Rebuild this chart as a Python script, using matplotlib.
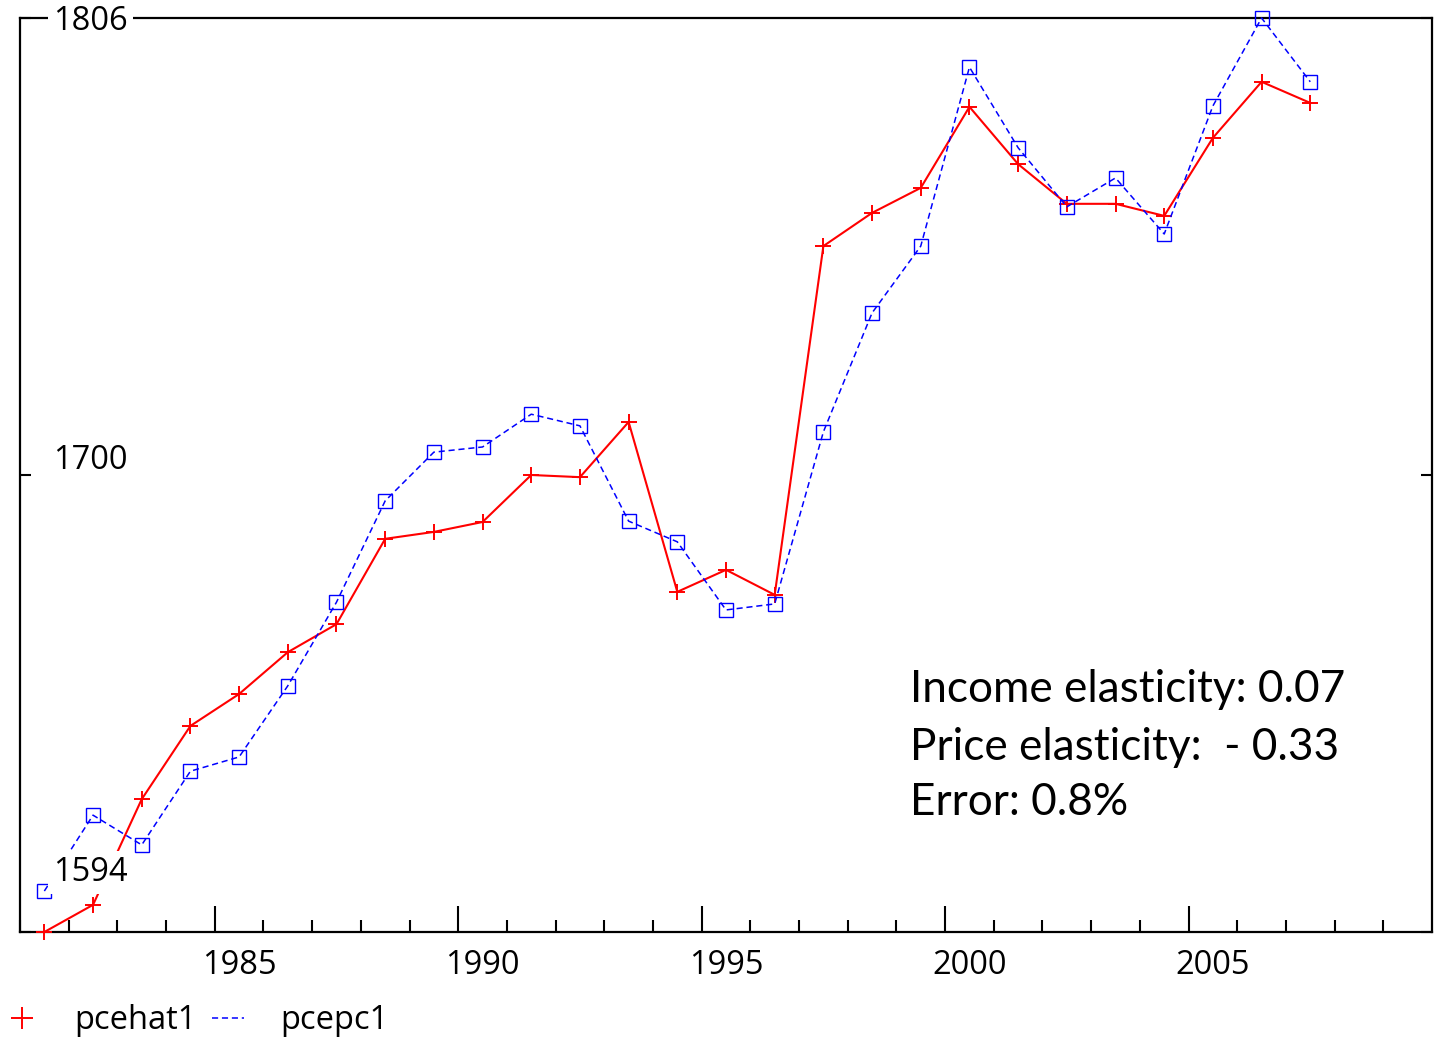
import matplotlib
matplotlib.use("Agg")
import matplotlib.pyplot as plt
from matplotlib.lines import Line2D
from matplotlib.transforms import ScaledTranslation, blended_transform_factory

years = list(range(1981, 2008))
pcehat1 = [1594.0, 1600.3, 1624.8, 1641.8, 1649.2, 1658.9, 1665.4, 1685.2, 1686.8,
           1689.1, 1700.0, 1699.5, 1712.3, 1672.9, 1678.0, 1672.2, 1753.1, 1760.8,
           1766.6, 1785.4, 1772.1, 1762.9, 1762.9, 1760.1, 1778.2, 1791.2, 1786.3]
pcepc1 = [1603.5, 1621.1, 1614.2, 1631.3, 1634.6, 1651.1, 1670.5, 1694.0, 1705.3,
          1706.5, 1714.1, 1711.4, 1689.3, 1684.5, 1668.7, 1670.1, 1710.0, 1737.6,
          1753.1, 1794.6, 1775.9, 1762.2, 1768.9, 1755.9, 1785.6, 1806.0, 1791.2]
ytick_values = [1594, 1700, 1806]
xtick_labels = [1985, 1990, 1995, 2000, 2005]
series_names = ["pcehat1", "pcepc1"]
annotation_lines = ["Income elasticity: 0.07", "Price elasticity:  - 0.33", "Error: 0.8%"]

W, H = 1435, 1037
fig = plt.figure(figsize=(W / 100, H / 100), dpi=100)
ax = fig.add_axes([20 / W, 1 - 932 / H, (1432 - 20) / W, (932 - 18) / H])

tick_font = "Open Sans"
tick_size = 23.5

ax.plot(years, pcehat1, color="#ff0000", lw=1.5, marker="+", ms=12, mew=1.4,
        clip_on=False, zorder=3)
ax.plot(years, pcepc1, color="#0000ff", lw=1.1, ls=(0, (4, 2.5)), marker="s", ms=10.5,
        mfc="none", mec="#0000ff", mew=1.0, clip_on=False, zorder=3)

ax.set_xlim(1980.5, 2009.5)
ax.set_ylim(ytick_values[0], ytick_values[-1])

for s in ax.spines.values():
    s.set_linewidth(1.6)
    s.set_zorder(2)

# x ticks: tall ticks at year starts, labels centred on the year
ax.set_xticks([y - 0.5 for y in xtick_labels])
ax.set_xticklabels([str(y) for y in xtick_labels], fontfamily=tick_font, fontsize=tick_size)
ax.set_xticks([y + 0.5 for y in range(1980, 2009)], minor=True)
ax.tick_params(axis="x", which="major", direction="in", length=19, width=1.5, pad=12)
ax.tick_params(axis="x", which="minor", direction="in", length=9, width=1.5)
shift = ScaledTranslation(0.24375, 0, fig.dpi_scale_trans)
for lab in ax.get_xticklabels():
    lab.set_transform(lab.get_transform() + shift)

# y ticks
ax.set_yticks(ytick_values)
ax.set_yticklabels([])
ax.tick_params(axis="y", which="major", direction="in", length=8, width=1.5,
               left=True, right=True)

trans = blended_transform_factory(ax.transAxes, ax.transData)
offsets = [42.6, 10.2, -2.3]
for v, off in zip(ytick_values, offsets):
    ax.annotate(str(v), xy=(33 / 1412, v), xycoords=trans, xytext=(0, off),
                textcoords="offset points", ha="left", va="center",
                fontfamily=tick_font, fontsize=tick_size, zorder=5,
                bbox=dict(boxstyle="square,pad=0.15", fc="white", ec="none"))

ybase = [0.2516, 0.1882, 0.128]
for txt, yb in zip(annotation_lines, ybase):
    ax.text(0.6303, yb, txt, transform=ax.transAxes, ha="left", va="baseline",
            fontfamily="Lato", fontsize=31.8, zorder=6)

handles = [Line2D([], [], color="#ff0000", marker="+", ms=16, mew=1.4, ls="none"),
           Line2D([], [], color="#0000ff", lw=1.1, ls=(0, (4, 2.5)))]
leg = fig.legend(handles, series_names, loc="lower left", bbox_to_anchor=(6 / W, 0 / H),
                 ncol=2, frameon=False, handlelength=1.0, handletextpad=1.1,
                 columnspacing=0.45, borderpad=0, borderaxespad=0,
                 prop={"family": tick_font, "size": tick_size})

fig.savefig("out.png", dpi=100)
